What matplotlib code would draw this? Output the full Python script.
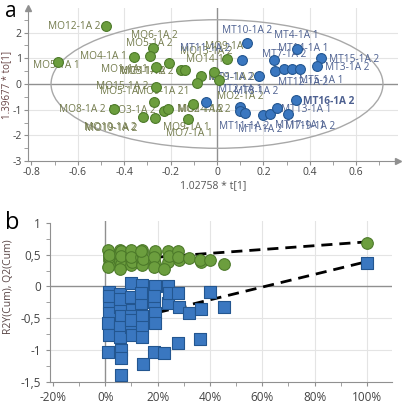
import matplotlib
matplotlib.use("Agg")
import matplotlib.pyplot as plt
from matplotlib.patches import Ellipse
from matplotlib.ticker import MultipleLocator, FuncFormatter

plt.rcParams['font.family'] = ['Open Sans', 'DejaVu Sans']
plt.rcParams['axes.unicode_minus'] = False

# ---- panel a: OPLS-DA scores (t[1] vs to[1]) ----
mo_t = [-0.479, -0.686, -0.357, -0.276, -0.289, -0.261, -0.207, -0.153, -0.136,
        -0.071, -0.086, -0.014, 0.007, 0.043, -0.261, -0.271, -0.443, -0.321,
        -0.267, -0.229, -0.211, -0.103, -0.126]
mo_to = [2.24, 0.87, 1.06, 1.42, 1.09, 0.67, 0.81, 0.53, 0.53,
         0.31, 0.03, 0.45, 0.15, 0.96, -0.12, -0.71, -0.99, -1.28,
         -1.33, -1.03, -0.96, -0.77, -1.37]
mt_t = [0.129, 0.107, 0.343, 0.446, 0.431, 0.246, 0.250, 0.290, 0.325, 0.358,
        0.181, -0.046, 0.100, 0.097, 0.120, 0.199, 0.230, 0.257, 0.305, 0.340]
mt_to = [1.60, 0.93, 1.38, 1.03, 0.69, 0.93, 0.49, 0.59, 0.58, 0.58,
         0.33, -0.69, -0.88, -1.03, -1.12, -1.21, -1.18, -0.94, -1.18, -0.63]

# label text, anchor (t, to)
mo_labels = [("MO12-1A 2", -0.615, 2.24), ("MO5-1A 1", -0.69, 0.71),
             ("MO4-1A 1", -0.49, 1.06), ("MO6-1A 2", -0.27, 1.90),
             ("MO5-1A 2", -0.29, 1.58), ("MO1-1A 1", -0.40, 0.58),
             ("MO3-1A 2", -0.32, 0.49), ("MO11-1A 2", -0.30, 0.49),
             ("MO13-1A 2", -0.045, 1.26), ("MO9-1A 1", 0.05, 1.44),
             ("MO14-1A", -0.04, 0.94), ("MO15-1A 2", -0.41, -0.09),
             ("MO5-1A", -0.42, -0.31), ("MO9-1A 21", -0.23, -0.31),
             ("MO8-1A 2", -0.58, -0.99), ("MO3-1A 2", -0.365, -1.03),
             ("MO2-1A 2", -0.07, -1.01), ("MO14-1A 2", -0.055, -1.01),
             ("MO10-1A 2", -0.46, -1.70), ("MO19-1A 2", -0.455, -1.74),
             ("MO9-1A 1", -0.13, -1.71), ("MO7-1A 1", -0.12, -1.91),
             ("MO2-1A 2", 0.10, -0.50), ("MO1-1A 2", 0.06, 0.25)]
mt_labels = [("MT10-1A 2", 0.13, 2.09), ("MT4-1A 1", 0.343, 1.90),
             ("MT14-1A 1", 0.37, 1.38), ("MT7-1A 2", 0.29, 1.13),
             ("MT15-1A 2", 0.59, 0.97), ("MT3-1A 2", 0.56, 0.65),
             ("MT12-1A 2", 0.37, 0.07), ("MT5-1A 1", 0.45, 0.12),
             ("MT11-1A 2", -0.05, 1.40), ("MT9-1A 2", 0.06, 0.27),
             ("MT2-1A 1", 0.10, -0.22), ("MT8-1A 2", 0.17, -0.31),
             ("MT16-1A 2", 0.48, -0.67), ("MT13-1A 1", 0.385, -0.99),
             ("MT11-1A 2", 0.115, -1.67), ("MT1-1A 2", 0.185, -1.76),
             ("MT17-1A 1", 0.36, -1.62), ("MT19-1A 2", 0.40, -1.64)]

# ---- panel b: permutation test (R2 and Q2 share the x of each permutation) ----
perm_x = [0.013, 0.013, 0.015, 0.012, 0.013, 0.010, 0.016,
          0.058, 0.055, 0.060, 0.058, 0.057, 0.060, 0.062, 0.060, 0.055,
          0.100, 0.098, 0.102, 0.100, 0.097, 0.103, 0.100,
          0.140, 0.138, 0.142, 0.140, 0.139, 0.145, 0.137,
          0.190, 0.188, 0.192, 0.190, 0.187, 0.185,
          0.240, 0.238, 0.242, 0.225,
          0.280, 0.283, 0.278,
          0.320, 0.365, 0.362, 0.400, 0.455, 1.0]
r2_y = [0.53, 0.42, 0.34, 0.58, 0.47, 0.30, 0.50,
        0.58, 0.45, 0.32, 0.53, 0.40, 0.56, 0.36, 0.48, 0.28,
        0.50, 0.42, 0.53, 0.34, 0.57, 0.38, 0.46,
        0.58, 0.47, 0.37, 0.52, 0.33, 0.43, 0.55,
        0.53, 0.42, 0.56, 0.36, 0.47, 0.30,
        0.55, 0.39, 0.48, 0.28,
        0.55, 0.42, 0.47,
        0.45, 0.39, 0.42, 0.42, 0.36, 0.69]
q2_y = [-0.08, -0.26, -0.42, -0.58, -0.76, -1.03, -0.15,
        -0.12, -0.32, -0.47, -0.63, -0.79, -1.00, -1.13, -1.39, -0.20,
        0.05, -0.16, -0.37, -0.47, -0.63, -0.76, -0.52,
        0.03, -0.26, -0.47, -0.63, -0.79, -1.21, -0.10,
        0.00, -0.25, -0.42, -0.58, -1.03, -0.15,
        0.00, -0.26, -0.10, -1.05,
        -0.10, -0.32, -0.89,
        -0.42, -0.35, -0.82, -0.08, -0.32, 0.37]
r2_line = ([0.0, 1.0], [0.40, 0.70])
q2_line = ([0.0, 1.0], [-0.61, 0.39])

green = "#6c9e3e"
green_edge = "#4d7a2a"
blue = "#3a77c0"
blue_edge = "#235690"
grid_c = "#e4e4e4"
axis_c = "#909090"
mo_txt = "#737b4c"
mt_txt = "#4d6090"

fig = plt.figure(figsize=(4.07, 4.09), dpi=100)

# ---------------- panel a ----------------
ax = fig.add_axes([0.069, 0.606, 0.909, 0.374])
ax.set_xlim(-0.814, 0.78)
ax.set_ylim(-3, 2.95)
for v in [-0.6, -0.4, -0.2, 0.2, 0.4, 0.6]:
    ax.axvline(v, color=grid_c, lw=0.8, zorder=0)
for v in [-2, -1, 1, 2]:
    ax.axhline(v, color=grid_c, lw=0.8, zorder=0)
ax.axvline(0, color=axis_c, lw=1.0, zorder=1)
ax.axhline(0, color=axis_c, lw=1.0, zorder=1)
ax.add_patch(Ellipse((0, 0), 1.43, 5.0, fill=False, ec="#a8a8a8", lw=1.0, zorder=1))

for txt, x, y in mo_labels:
    ax.text(x, y, txt, color=mo_txt, fontsize=7.3, ha="center", va="center", zorder=2)
for txt, x, y in mt_labels:
    ax.text(x, y, txt, color=mt_txt, fontsize=7.3, ha="center", va="center", zorder=2,
            fontweight="bold" if txt == "MT16-1A 2" else "normal")

ax.scatter(mo_t, mo_to, s=50, c=green, edgecolors=green_edge, linewidths=0.8, zorder=3)
ax.scatter(mt_t, mt_to, s=50, c=blue, edgecolors=blue_edge, linewidths=0.8, zorder=3)

for side in ["top", "right"]:
    ax.spines[side].set_visible(False)
for side in ["left", "bottom"]:
    ax.spines[side].set_color(axis_c)
ax.plot(1, 0, ">", color=axis_c, ms=5, transform=ax.transAxes, clip_on=False)
ax.plot(0, 1, "^", color=axis_c, ms=5, transform=ax.transAxes, clip_on=False)
ax.xaxis.set_major_locator(MultipleLocator(0.2))
ax.xaxis.set_minor_locator(MultipleLocator(0.1))
ax.yaxis.set_major_locator(MultipleLocator(1))
ax.yaxis.set_minor_locator(MultipleLocator(0.5))
ax.xaxis.set_major_formatter(FuncFormatter(lambda v, p: "0" if abs(v) < 1e-9 else "%.1f" % v))
ax.tick_params(which="both", colors=axis_c, labelcolor="#444444", labelsize=7.5, length=3, pad=1.5)
ax.set_xticks([-0.8, -0.6, -0.4, -0.2, 0, 0.2, 0.4, 0.6])
ax.set_yticks([-3, -2, -1, 0, 1, 2])
ax.set_xlabel("1.02758 * t[1]", fontsize=7.5, color="#555555", labelpad=1)
ax.set_ylabel("1.39677 * to[1]", fontsize=7, color="#6a4646")
ax.yaxis.set_label_coords(-0.044, 0.5)
fig.text(0.012, 0.972, "a", fontsize=15, ha="left", va="center")

# ---------------- panel b ----------------
bx = fig.add_axes([0.123, 0.066, 0.840, 0.394])
bx.set_xlim(-0.211, 1.096)
bx.set_ylim(-1.5, 1.03)
for v in [0.2, 0.4, 0.6, 0.8, 1.0]:
    bx.axvline(v, color=grid_c, lw=0.8, zorder=0)
for v in [0.5, -0.5, -1.0]:
    bx.axhline(v, color=grid_c, lw=0.8, zorder=0)
bx.axvline(0, color=axis_c, lw=1.0, zorder=1)
bx.axhline(0, color=axis_c, lw=1.0, zorder=1)

bx.plot(*r2_line, ls=(0, (4, 2.5)), color="black", lw=2, zorder=2)
bx.plot(*q2_line, ls=(0, (4, 2.5)), color="black", lw=2, zorder=2)
bx.scatter(perm_x, r2_y, s=70, c=green, edgecolors=green_edge, linewidths=0.8, zorder=3)
bx.scatter(perm_x, q2_y, s=75, marker="s", c=blue, edgecolors=blue_edge, linewidths=0.8, zorder=3)

for side in ["top", "right"]:
    bx.spines[side].set_visible(False)
for side in ["left", "bottom"]:
    bx.spines[side].set_color(axis_c)
bx.spines["left"].set_bounds(-1.5, 1.0)
bx.set_xticks([-0.2, 0, 0.2, 0.4, 0.6, 0.8, 1.0])
bx.xaxis.set_minor_locator(MultipleLocator(0.1))
bx.set_yticks([-1.5, -1, -0.5, 0, 0.5, 1])
bx.yaxis.set_minor_locator(MultipleLocator(0.25))
bx.xaxis.set_major_formatter(FuncFormatter(lambda v, p: "%d%%" % round(v * 100)))
bx.yaxis.set_major_formatter(FuncFormatter(lambda v, p: ("%g" % v).replace(".", ",")))
bx.tick_params(which="both", colors=axis_c, labelcolor="#444444", labelsize=8.5, length=3)
bx.set_ylabel("R2Y(Cum), Q2(Cum)", fontsize=7.5, color="#5a4646")
bx.yaxis.set_label_coords(-0.105, 0.59)
fig.text(0.012, 0.455, "b", fontsize=17, ha="left", va="center")

fig.savefig("out.png", dpi=100)
